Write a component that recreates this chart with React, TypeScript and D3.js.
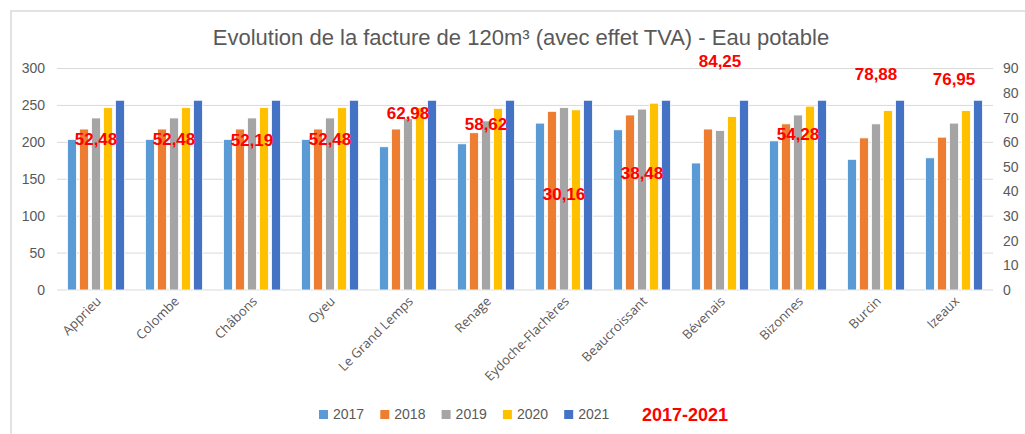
import { useEffect, useRef } from 'react';
import * as d3 from 'd3';

const communes = ['Apprieu', 'Colombe', 'Châbons', 'Oyeu', 'Le Grand Lemps', 'Renage', 'Eydoche-Flachères', 'Beaucroissant', 'Bévenais', 'Bizonnes', 'Burcin', 'Izeaux'];
const annees = ['2017', '2018', '2019', '2020', '2021'];
const couleurs = ['#5b9bd5', '#ed7d31', '#a5a5a5', '#ffc000', '#4472c4'];

// facture 120m3 par année (axe gauche)
const v2017 = [204, 204, 204, 204, 194, 198, 226, 217, 172, 202, 177, 179];
const v2018 = [218, 218, 218, 218, 218, 213, 242, 237, 218, 225, 206, 207];
const v2019 = [233, 233, 233, 233, 232, 229, 247, 245, 216, 237, 225, 226];
const v2020 = [247, 247, 247, 247, 247, 246, 244, 253, 235, 249, 243, 243];
const v2021 = [257, 257, 257, 257, 257, 257, 257, 257, 257, 257, 257, 257];
const series = [v2017, v2018, v2019, v2020, v2021];

// écart 2017-2021 (axe droit)
const ecart = [52.48, 52.48, 52.19, 52.48, 62.98, 58.62, 30.16, 38.48, 84.25, 54.28, 78.88, 76.95];

const ticksGauche = [0, 50, 100, 150, 200, 250, 300];
const ticksDroite = [0, 10, 20, 30, 40, 50, 60, 70, 80, 90];

const W = 1025;
const H = 434;

export default function App() {
  const svgRef = useRef(null);

  useEffect(() => {
    document.body.style.margin = '0';
    const svg = d3.select(svgRef.current);
    svg.selectAll('*').remove();

    const left = 57, right = 993, top = 68.5, bottom = 290;
    const gris = '#595959';

    // cadre
    svg.append('rect')
      .attr('x', 11).attr('y', 11)
      .attr('width', W + 20).attr('height', H + 20)
      .attr('fill', '#fff')
      .attr('stroke', '#d9d9d9').attr('stroke-width', 1.5);

    const x0 = d3.scaleBand().domain(communes).range([left, right]).padding(0);
    const x1 = d3.scaleBand().domain(annees).range([10.5, x0.bandwidth() - 10.5]).paddingInner(0.25);
    const y = d3.scaleLinear().domain([0, 300]).range([bottom, top]);
    const yR = d3.scaleLinear().domain([0, 90]).range([bottom, top]);

    // titre
    svg.append('text')
      .attr('x', 521).attr('y', 45)
      .attr('text-anchor', 'middle')
      .attr('font-family', 'Liberation Sans, Arial, sans-serif')
      .attr('font-size', 22)
      .attr('fill', gris)
      .text('Evolution de la facture de 120m³ (avec effet TVA) - Eau potable');

    // grille
    svg.append('g')
      .selectAll('line')
      .data(ticksGauche)
      .enter()
      .append('line')
      .attr('x1', left).attr('x2', right)
      .attr('y1', d => y(d)).attr('y2', d => y(d))
      .attr('stroke', '#d9d9d9').attr('stroke-width', 1);

    // axe gauche
    svg.append('g')
      .selectAll('text')
      .data(ticksGauche)
      .enter()
      .append('text')
      .attr('x', 45)
      .attr('y', d => y(d))
      .attr('dy', '0.35em')
      .attr('text-anchor', 'end')
      .attr('font-family', 'Liberation Sans, Arial, sans-serif')
      .attr('font-size', 14)
      .attr('fill', gris)
      .text(d => d);

    // axe droit
    svg.append('g')
      .selectAll('text')
      .data(ticksDroite)
      .enter()
      .append('text')
      .attr('x', 1003)
      .attr('y', d => yR(d))
      .attr('dy', '0.35em')
      .attr('font-family', 'Liberation Sans, Arial, sans-serif')
      .attr('font-size', 14)
      .attr('fill', gris)
      .text(d => d);

    // barres
    series.forEach((vals, s) => {
      svg.append('g')
        .selectAll('rect')
        .data(vals)
        .enter()
        .append('rect')
        .attr('x', (d, i) => x0(communes[i]) + x1(annees[s]))
        .attr('y', d => y(d))
        .attr('width', x1.bandwidth())
        .attr('height', d => bottom - y(d))
        .attr('fill', couleurs[s])
        .attr('stroke', '#fff')
        .attr('stroke-width', 0.8);
    });

    // étiquettes communes
    svg.append('g')
      .selectAll('text')
      .data(communes)
      .enter()
      .append('text')
      .attr('transform', d => `translate(${x0(d) + x0.bandwidth() / 2 + 6},${bottom + 12}) rotate(-45)`)
      .attr('text-anchor', 'end')
      .attr('font-family', 'Open Sans, sans-serif')
      .attr('font-size', 13)
      .attr('fill', gris)
      .text(d => d);

    // écarts en rouge
    svg.append('g')
      .selectAll('text')
      .data(ecart)
      .enter()
      .append('text')
      .attr('x', (d, i) => x0(communes[i]) + x0.bandwidth() / 2)
      .attr('y', d => yR(d) - 22)
      .attr('dy', '0.35em')
      .attr('text-anchor', 'middle')
      .attr('font-family', 'Liberation Sans, Arial, sans-serif')
      .attr('font-weight', 'bold')
      .attr('font-size', 17)
      .attr('fill', '#ff0000')
      .text(d => d.toFixed(2).replace('.', ','));

    // légende
    const leg = svg.append('g');
    annees.forEach((a, i) => {
      const lx = 319 + i * 61.3;
      leg.append('rect')
        .attr('x', lx).attr('y', 410)
        .attr('width', 9).attr('height', 9)
        .attr('fill', couleurs[i]);
      leg.append('text')
        .attr('x', lx + 14).attr('y', 414.5)
        .attr('dy', '0.35em')
        .attr('font-family', 'Liberation Sans, Arial, sans-serif')
        .attr('font-size', 14)
        .attr('fill', gris)
        .text(a);
    });
    leg.append('text')
      .attr('x', 642).attr('y', 414.5)
      .attr('dy', '0.35em')
      .attr('font-family', 'Liberation Sans, Arial, sans-serif')
      .attr('font-weight', 'bold')
      .attr('font-size', 18)
      .attr('fill', '#ff0000')
      .text('2017-2021');
  }, []);

  return <svg ref={svgRef} width={W} height={H} style={{ display: 'block' }}></svg>;
}
